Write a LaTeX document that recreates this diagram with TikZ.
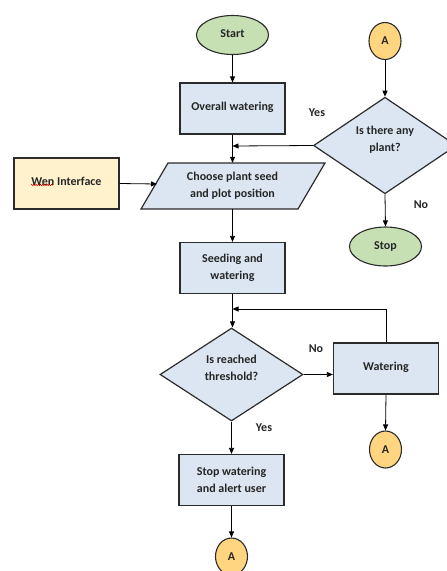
\documentclass[tikz,border=0pt]{standalone}
\usepackage{fontspec}
\setmainfont{Carlito}
\usetikzlibrary{arrows.meta,shapes.geometric,decorations.pathmorphing}
\definecolor{boxblue}{HTML}{DCE6F2}
\definecolor{termgreen}{HTML}{C6E0B4}
\definecolor{connorange}{HTML}{FFD580}
\definecolor{ifyellow}{HTML}{FFF2CC}
\definecolor{edgec}{HTML}{2B2B2B}
\definecolor{txt}{HTML}{262626}
\begin{document}
\begin{tikzpicture}[x=1pt,y=-1pt,
  every node/.style={font=\bfseries\fontsize{12}{17}\selectfont, text=txt},
  proc/.style={draw=edgec, line width=1.2pt, fill=boxblue, minimum width=105pt, minimum height=51pt, inner sep=0pt, align=center},
  inbox/.style={proc, fill=ifyellow},
  term/.style={draw=edgec, line width=1.1pt, fill=termgreen, ellipse, minimum width=72pt, minimum height=39pt, inner sep=0pt},
  conn/.style={draw=edgec, line width=1.1pt, fill=connorange, ellipse, minimum width=32pt, minimum height=37pt, inner sep=0pt},
  decision/.style={draw=edgec, line width=1.2pt, fill=boxblue, diamond, minimum width=143pt, minimum height=93pt, inner sep=0pt, align=center},
  arr/.style={draw=black, line width=0.8pt, -{Triangle[length=6pt,width=5pt]}},
  lbl/.style={inner sep=0pt}
]
\useasboundingbox (0,0) rectangle (447,571);

% left column
\node[term] (start) at (232.5,35) {\raisebox{3pt}{Start}};
\node[proc] (overall) at (232.5,108.5) {\raisebox{5pt}{Overall watering}};
\path[fill=boxblue, draw=edgec, line width=1.2pt] (168,163) -- (325,163) -- (298,209) -- (141,209) -- cycle;
\node[align=center, minimum width=130pt, minimum height=46pt, inner sep=0pt] (choose) at (232.5,186) {Choose plant seed\\and plot position};
\coordinate (chooseL) at (157,184);
\node[inbox] (wen) at (66.5,183.5) {\raisebox{5pt}{Wen Interface}};
\draw[red!80!black, line width=0.5pt, decorate, decoration={snake, amplitude=0.7pt, segment length=2.2pt}] (31,185) -- (53,185);
\node[proc] (seed) at (232.5,268) {Seeding and\\watering};
\coordinate (join) at (232.5,309);
\node[decision] (thr) at (231.5,374.5) {Is reached\\threshold?\\[-4pt]\mbox{}};
\node[proc] (stopw) at (231.5,480) {Stop watering\\and alert user};
\node[conn] (a3) at (231.5,556.5) {A};

% right column
\node[conn] (a1) at (385,41) {A};
\node[decision] (plant) at (385,145.5) {Is there any\\plant?\\[-4pt]\mbox{}};
\coordinate (yesjoin) at (232.5,146);
\node[term] (stop) at (385.5,246.5) {\raisebox{2pt}{Stop}};
\node[proc] (water) at (386,368.5) {\raisebox{5pt}{Watering}};
\node[conn] (a2) at (385.5,449.5) {A};

% labels
\node[lbl] (yes1) at (317,113) {Yes};
\node[lbl] (no1) at (421,205) {No};
\node[lbl] (no2) at (316,349) {No};
\node[lbl] (yes2) at (264,428) {Yes};

% connectors
\draw[arr] (start) -- (overall);
\draw[arr] (overall) -- (choose);
\draw[arr] (plant.west) -- (yesjoin);
\draw[arr] (wen.east) -- (chooseL);
\draw[arr] (choose.south) -- (seed.north);
\draw[arr] (seed.south) -- (seed.south |- thr.north);
\draw[arr] (water.north) |- (join);
\draw[arr] (thr.east) -- (thr.east -| water.west);
\draw[arr] (thr.south) -- (stopw.north);
\draw[arr] (stopw.south) -- (a3.north);
\draw[arr] (a1.south) -- (plant.north);
\draw[arr] (plant.south) -- (stop.north);
\draw[arr] (water.south) -- (a2.north);
\end{tikzpicture}
\end{document}
